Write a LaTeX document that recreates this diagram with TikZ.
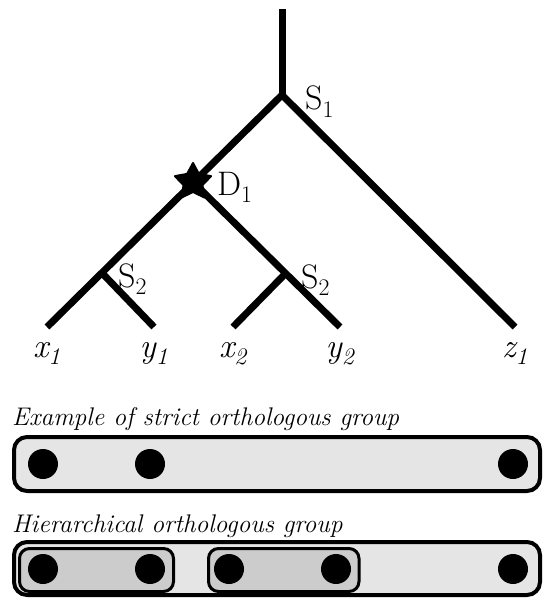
\documentclass[tikz,border=0pt]{standalone}
\usepackage{tikz}
\usetikzlibrary{shapes.geometric, positioning}

\begin{document}
\begin{tikzpicture}[
    x=1pt,
    y=-1pt,
    every node/.style={
        font=\fontsize{34}{38}\selectfont,
        inner sep=0pt
    },
    branch/.style={
        line width=7pt,
        miter limit=20
    },
    event/.style={
        anchor=base west
    },
    species/.style={
        anchor=base,
        font=\fontsize{34}{38}\selectfont\itshape
    },
    dupstar/.style={
        star,
        star points=5,
        star point ratio=1.9,
        fill,
        draw,
        line width=2pt,
        line join=round,
        minimum size=38pt
    },
    gene/.style={
        circle,
        fill,
        minimum size=30pt
    },
    group/.style={
        draw,
        line width=4pt,
        rounded corners=13pt,
        fill=black!10
    },
    subgroup/.style={
        draw,
        line width=3pt,
        rounded corners=10pt,
        fill=black!20
    },
    caption/.style={
        anchor=base west,
        font=\fontsize{25.5}{30}\selectfont\itshape
    }
]

\useasboundingbox (0,0) rectangle (542,599);

% tree
\coordinate (root) at (282,9);
\coordinate (s1)   at (282,95);
\coordinate (d1)   at (193,182);
\coordinate (s2a)  at (102,273);
\coordinate (s2b)  at (285,274);
\coordinate (x1)   at (47,327);
\coordinate (y1)   at (154,327);
\coordinate (x2)   at (233,327);
\coordinate (y2)   at (340,327);
\coordinate (z1)   at (515,327);

\draw[branch] (root) -- (s1);
\draw[branch] (x1) -- (s1) -- (z1);
\draw[branch] (d1) -- (y2);
\draw[branch] (s2a) -- (y1);
\draw[branch] (s2b) -- (x2);

\node[dupstar] (dup) at (d1) {};

\node[event] (ls1) at ([shift={(23,15)}]s1)  {S\textsubscript{1}};
\node[event] (ld1) at ([shift={(24,13)}]d1)  {D\textsubscript{1}};
\node[event] (ls2a) at ([shift={(16,14)}]s2a) {S\textsubscript{2}};
\node[event] (ls2b) at ([shift={(16,14)}]s2b) {S\textsubscript{2}};

\node[species] (lx1) at ([shift={(0,30)}]x1) {x\textsubscript{1}};
\node[species] (ly1) at ([shift={(0,30)}]y1) {y\textsubscript{1}};
\node[species] (lx2) at ([shift={(0,30)}]x2) {x\textsubscript{2}};
\node[species] (ly2) at ([shift={(0,30)}]y2) {y\textsubscript{2}};
\node[species] (lz1) at ([shift={(0,30)}]z1) {z\textsubscript{1}};

% groups
\node[caption] (strict) at (12,425) {Example of strict orthologous group};
\draw[group] (14,437) rectangle (540,491);
\node[gene] (sa) at (43,464) {};
\node[gene] (sb) at (150,464) {};
\node[gene] (sc) at (513,464) {};

\node[caption] (hier) at (12,532) {Hierarchical orthologous group};
\draw[group] (14,542) rectangle (540,595);
\draw[subgroup] (19.5,548.5) rectangle (173.5,591.5);
\draw[subgroup] (208.5,548.5) rectangle (359,591.5);
\node[gene] (ha) at (43,569) {};
\node[gene] (hb) at (150,569) {};
\node[gene] (hc) at (229,569) {};
\node[gene] (hd) at (336,569) {};
\node[gene] (he) at (513,569) {};

\end{tikzpicture}
\end{document}
